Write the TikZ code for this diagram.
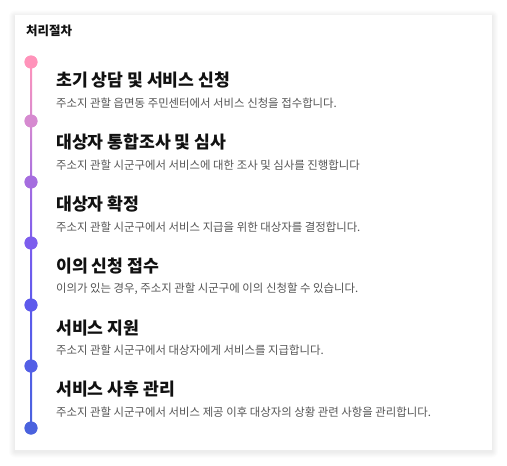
\documentclass[tikz,border=0pt]{standalone}
\usepackage{fontspec}
\setmainfont{Noto Sans CJK KR}
\usetikzlibrary{calc}
\definecolor{cA}{HTML}{FF93BA}
\definecolor{cB}{HTML}{D68AD0}
\definecolor{cC}{HTML}{A56DDF}
\definecolor{cD}{HTML}{7C5DED}
\definecolor{cE}{HTML}{5D5AEC}
\definecolor{cF}{HTML}{535FE6}
\definecolor{cG}{HTML}{4A62DE}
\definecolor{headc}{HTML}{111111}
\definecolor{descc}{HTML}{555555}
\tikzset{
  dotnode/.style={circle,inner sep=0pt,minimum size=13pt,fill=#1},
  headnode/.style={anchor=west,inner sep=0pt,text=headc,font=\fontsize{17.2}{19}\selectfont\bfseries},
  descnode/.style={anchor=west,inner sep=0pt,text=descc,font=\fontsize{11.4}{13}\selectfont},
  titlenode/.style={anchor=west,inner sep=0pt,text=headc,font=\fontsize{12.5}{14}\selectfont\bfseries},
}
\begin{document}
\begin{tikzpicture}[x=1pt,y=-1pt]
\useasboundingbox[fill=white] (0,0) rectangle (507,466);
\foreach \i in {1,...,6}{
  \fill[black,opacity=0.012,rounded corners=\i pt] ({15-\i},{15-\i+1.5}) rectangle ({492+\i},{450+\i+1.5});
}
\fill[white] (15,15) rectangle (492,450);
\node[titlenode] (title) at (26,31) {처리절차};
% dots
\node[dotnode=cA] (d1) at (31,62) {};
\node[dotnode=cB] (d2) at (31,121) {};
\node[dotnode=cC] (d3) at (31,182) {};
\node[dotnode=cD] (d4) at (31,243) {};
\node[dotnode=cE] (d5) at (31,305) {};
\node[dotnode=cF] (d6) at (31,366) {};
\node[dotnode=cG] (d7) at (31,428) {};
% connectors
\shade[top color=cA,bottom color=cB] ($(d1.center)+(-1,0)$) rectangle ($(d2.center)+(1,0)$);
\shade[top color=cB,bottom color=cC] ($(d2.center)+(-1,0)$) rectangle ($(d3.center)+(1,0)$);
\shade[top color=cC,bottom color=cD] ($(d3.center)+(-1,0)$) rectangle ($(d4.center)+(1,0)$);
\shade[top color=cD,bottom color=cE] ($(d4.center)+(-1,0)$) rectangle ($(d5.center)+(1,0)$);
\shade[top color=cE,bottom color=cF] ($(d5.center)+(-1,0)$) rectangle ($(d6.center)+(1,0)$);
\shade[top color=cF,bottom color=cG] ($(d6.center)+(-1,0)$) rectangle ($(d7.center)+(1,0)$);
\node[dotnode=cA] at (d1) {};
\node[dotnode=cB] at (d2) {};
\node[dotnode=cC] at (d3) {};
\node[dotnode=cD] at (d4) {};
\node[dotnode=cE] at (d5) {};
\node[dotnode=cF] at (d6) {};
\node[dotnode=cG] at (d7) {};
% texts
\node[headnode] (h1) at (56,80) {초기 상담 및 서비스 신청};
\node[descnode] (t1) at (56,103) {주소지 관할 읍면동 주민센터에서 서비스 신청을 접수합니다.};
\node[headnode] (h2) at (56,142) {대상자 통합조사 및 심사};
\node[descnode] (t2) at (56,165) {주소지 관할 시군구에서 서비스에 대한 조사 및 심사를 진행합니다};
\node[headnode] (h3) at (56,204) {대상자 확정};
\node[descnode] (t3) at (56,227) {주소지 관할 시군구에서 서비스 지급을 위한 대상자를 결정합니다.};
\node[headnode] (h4) at (56,266) {이의 신청 접수};
\node[descnode] (t4) at (56,289) {이의가 있는 경우, 주소지 관할 시군구에 이의 신청할 수 있습니다.};
\node[headnode] (h5) at (56,328) {서비스 지원};
\node[descnode] (t5) at (56,350) {주소지 관할 시군구에서 대상자에게 서비스를 지급합니다.};
\node[headnode] (h6) at (56,389) {서비스 사후 관리};
\node[descnode] (t6) at (56,412) {주소지 관할 시군구에서 서비스 제공 이후 대상자의 상황 관련 사항을 관리합니다.};
\end{tikzpicture}
\end{document}
